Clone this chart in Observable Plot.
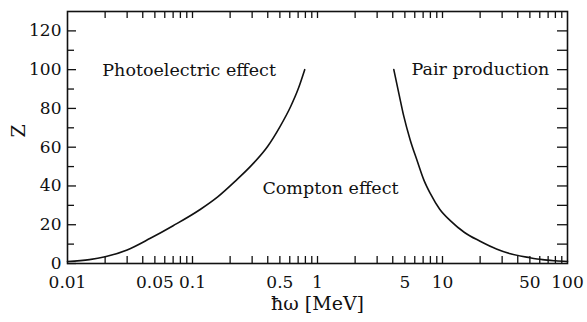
<!DOCTYPE html>
<html>
<head>
<meta charset="utf-8">
<script src="https://cdn.jsdelivr.net/npm/d3@7"></script>
<script src="https://cdn.jsdelivr.net/npm/@observablehq/plot@0.6"></script>
<style>
  html, body { margin: 0; padding: 0; background: #fff; }
  #chart svg { display: block; }
</style>
</head>
<body>
<div id="chart"></div>
<script>
// Photoelectric / Compton boundary
const photoE = [0.01, 0.015, 0.02, 0.03, 0.046, 0.07, 0.116, 0.16, 0.22, 0.3, 0.4, 0.5, 0.61, 0.7, 0.79];
const photoZ = [1, 2, 3.5, 7, 13, 19.5, 28, 34.5, 42.5, 51, 60.5, 70.5, 81, 90, 100];
// Compton / Pair production boundary
const pairE = [4.08, 4.5, 4.9, 5.5, 6.27, 7.1, 8, 9.5, 11.6, 15, 20, 27, 35, 50, 63, 80, 100];
const pairZ = [100, 87, 76, 64, 53, 43, 36, 28, 22, 16, 11.5, 7.5, 5, 3, 2, 1.4, 1];

// Axis ticks
const xLabelTicks = [0.01, 0.05, 0.1, 0.5, 1, 5, 10, 50, 100];
const xTickLabels = ["0.01", "0.05", "0.1", "0.5", "1", "5", "10", "50", "100"];
const xMinorTicks = [0.02, 0.03, 0.04, 0.05, 0.06, 0.07, 0.08, 0.09, 0.1,
  0.2, 0.3, 0.4, 0.5, 0.6, 0.7, 0.8, 0.9, 1,
  2, 3, 4, 5, 6, 7, 8, 9, 10,
  20, 30, 40, 50, 60, 70, 80, 90];
const yMajorTicks = [0, 20, 40, 60, 80, 100, 120];
const yMinorTicks = [10, 30, 50, 70, 90, 110];
const yAllTicks = [10, 20, 30, 40, 50, 60, 70, 80, 90, 100, 110, 120];

// Region labels
const regionNames = ["Photoelectric effect", "Pair production", "Compton effect"];
const regionE = [0.094, 20.1, 1.27];
const regionZ = [99.5, 100, 38.5];

const xTitle = "ħω [MeV]";
const yTitle = "Z";

const photo = photoE.map((e, i) => ({E: e, Z: photoZ[i]}));
const pair = pairE.map((e, i) => ({E: e, Z: pairZ[i]}));
const regions = regionNames.map((n, i) => ({name: n, E: regionE[i], Z: regionZ[i]}));

const W = 587, H = 322;
const mL = 67, mR = 20, mT = 11, mB = 59;
const fw = W - mL - mR, fh = H - mT - mB;
const font = "DejaVu Serif";
const ink = "#111";

const chart = Plot.plot({
  width: W, height: H,
  marginLeft: mL, marginRight: mR, marginTop: mT, marginBottom: mB,
  style: {background: "#fff", color: ink},
  x: {type: "log", domain: [0.01, 100], axis: null},
  y: {domain: [0, 130], axis: null},
  marks: [
    // bottom ticks (inward)
    Plot.ruleX(xMinorTicks, {x: d => d, insetTop: fh - 7, stroke: ink, strokeWidth: 1.3}),
    // top ticks (inward)
    Plot.ruleX(xMinorTicks, {x: d => d, insetBottom: fh - 7, stroke: ink, strokeWidth: 1.3}),
    // left ticks (inward)
    Plot.ruleY(yMajorTicks, {y: d => d, insetRight: fw - 9, stroke: ink, strokeWidth: 1.3}),
    Plot.ruleY(yMinorTicks, {y: d => d, insetRight: fw - 7, stroke: ink, strokeWidth: 1.3}),
    // right ticks (inward)
    Plot.ruleY(yAllTicks, {y: d => d, insetLeft: fw - 10, stroke: ink, strokeWidth: 1.3}),
    Plot.frame({stroke: ink, strokeWidth: 1.6}),
    // tick labels
    Plot.text(xLabelTicks, {x: d => d, text: (d, i) => xTickLabels[i], frameAnchor: "bottom", lineAnchor: "top", dy: 12, fontSize: 17, fontFamily: font, fill: ink}),
    Plot.text(yMajorTicks, {y: d => d, text: d => String(d), frameAnchor: "left", textAnchor: "end", dx: -6, fontSize: 17, fontFamily: font, fill: ink}),
    // curves
    Plot.line(photo, {x: "E", y: "Z", curve: "monotone-x", stroke: ink, strokeWidth: 1.6}),
    Plot.line(pair, {x: "E", y: "Z", curve: "monotone-x", stroke: ink, strokeWidth: 1.6}),
    // region labels
    Plot.text(regions, {x: "E", y: "Z", text: "name", fontSize: 17.5, fontFamily: font, fill: ink}),
    // axis titles
    Plot.text([xTitle], {frameAnchor: "bottom", dy: 46, fontSize: 19, fontFamily: font, fill: ink}),
    Plot.text([yTitle], {frameAnchor: "left", dx: -49, rotate: -90, fontSize: 19, fontFamily: font, fill: ink})
  ]
});
document.getElementById("chart").appendChild(chart);
</script>
</body>
</html>
